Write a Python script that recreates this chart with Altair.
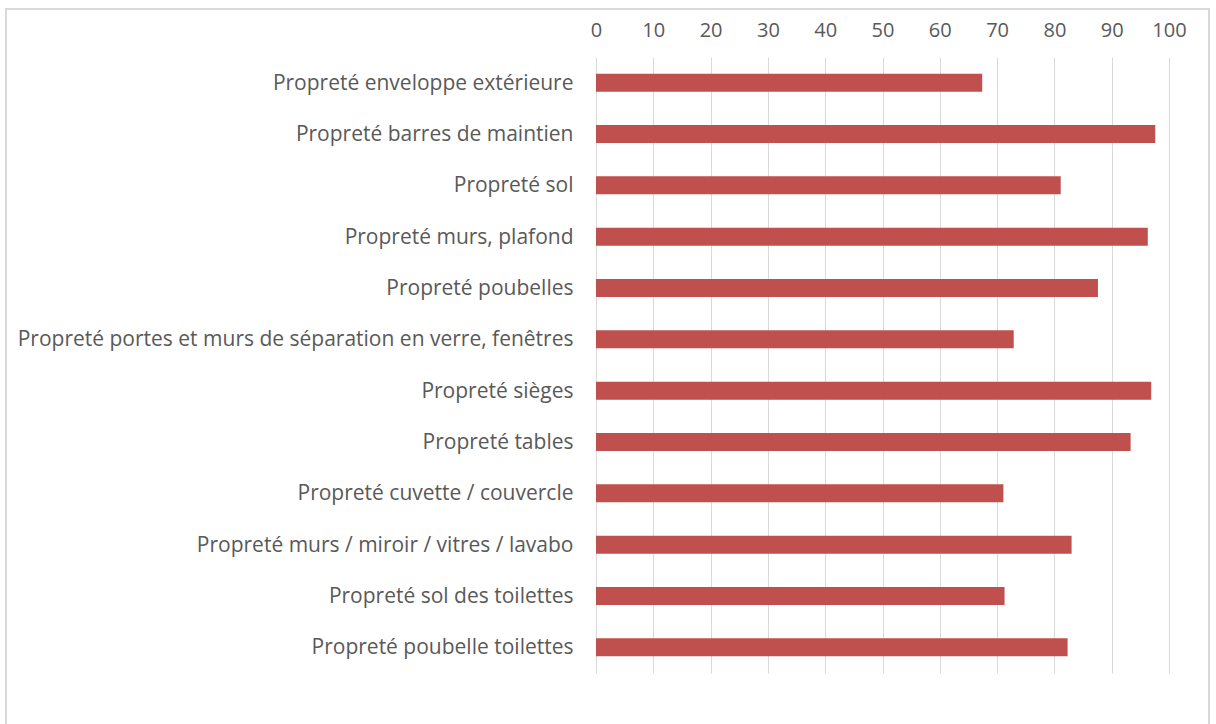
import altair as alt
import pandas as pd

categories = [
    "Propreté enveloppe extérieure",
    "Propreté barres de maintien",
    "Propreté sol",
    "Propreté murs, plafond",
    "Propreté poubelles",
    "Propreté portes et murs de séparation en verre, fenêtres",
    "Propreté sièges",
    "Propreté tables",
    "Propreté cuvette / couvercle",
    "Propreté murs / miroir / vitres / lavabo",
    "Propreté sol des toilettes",
    "Propreté poubelle toilettes",
]
values = [67.4, 97.6, 81.1, 96.3, 87.6, 72.9, 96.9, 93.3, 71.1, 83.0, 71.3, 82.3]
x_ticks = [0, 10, 20, 30, 40, 50, 60, 70, 80, 90, 100]

df = pd.DataFrame({"cat": categories, "val": values})

FONT = "Open Sans"
GRAY = "#595959"

bars = alt.Chart(df).mark_bar(color="#C0504D", size=18).encode(
    x=alt.X("val:Q", scale=alt.Scale(domain=[0, 100], nice=False),
            axis=alt.Axis(orient="top", values=x_ticks, title=None, domain=False,
                          ticks=False, grid=True, gridColor="#d9d9d9", gridWidth=1,
                          labelFont=FONT, labelFontSize=20, labelColor=GRAY,
                          labelFlush=False, labelPadding=17)),
    y=alt.Y("cat:N", sort=categories,
            scale=alt.Scale(paddingInner=0, paddingOuter=0),
            axis=alt.Axis(title=None, domain=False, ticks=False, labelLimit=0,
                          labelFont=FONT, labelFontSize=21, labelColor=GRAY,
                          labelPadding=23, labelOffset=1)),
)

border = alt.Chart(df).mark_rect(fill=None, stroke="#d9d9d9", strokeWidth=1.5, clip=False).encode(
    x=alt.value(6 - 596), x2=alt.value(1209 - 596),
    y=alt.value(9 - 57), y2=alt.value(740 - 57),
)

chart = alt.layer(border, bars).properties(
    width=573, height=616,
    autosize=alt.AutoSizeParams(type="none"),
    padding={"left": 596, "top": 57, "right": 47, "bottom": 51},
    background="white",
).configure_view(stroke=None)

chart.save("out.html", embed_options={"renderer": "svg", "actions": False})
